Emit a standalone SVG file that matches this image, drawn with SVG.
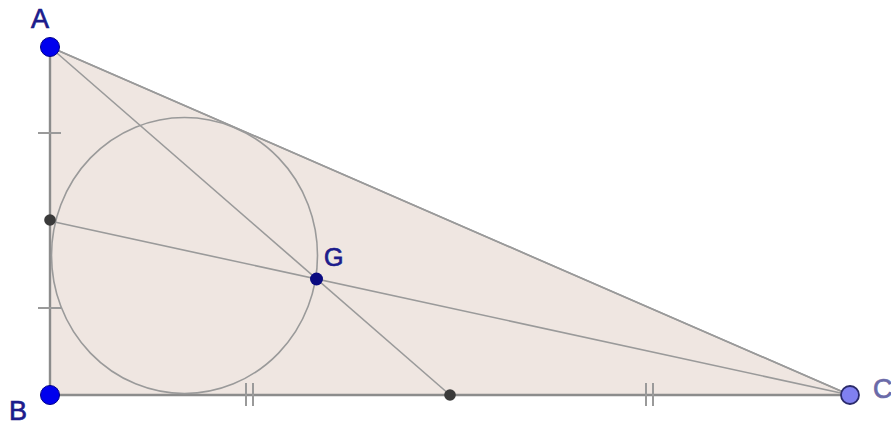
<svg xmlns="http://www.w3.org/2000/svg" width="891" height="427" viewBox="0 0 891 427">
<style>
.seg{stroke:#9a9a9a;stroke-width:1.6;fill:none}
.edge{stroke:#8c8c8c;stroke-width:2.4;fill:none}
.tick{stroke:#9a9a9a;stroke-width:2;fill:none}
.lbl{font-family:"Liberation Sans",Arial,sans-serif;font-size:27px;fill:#1c1c8c;stroke:#1c1c8c;stroke-width:0.7}
</style>
<rect width="891" height="427" fill="#ffffff"/>
<polygon points="50,47 50,395 850,395" fill="#efe6e1" stroke="#9a9a9a" stroke-width="1.6"/>
<g id="connectors">
<line class="edge" x1="50" y1="47" x2="50" y2="395"/>
<line class="edge" x1="50" y1="395" x2="850" y2="395"/>
<line class="seg" x1="50" y1="47" x2="850" y2="395"/>
<line class="seg" x1="50" y1="47" x2="450" y2="395"/>
<line class="seg" x1="50" y1="221" x2="850" y2="395"/>
<ellipse class="seg" cx="184.5" cy="255.5" rx="133" ry="138"/>
<line class="tick" x1="38" y1="133" x2="61" y2="133"/>
<line class="tick" x1="38" y1="308" x2="61" y2="308"/>
<line class="tick" x1="246" y1="383" x2="246" y2="406"/>
<line class="tick" x1="253" y1="383" x2="253" y2="406"/>
<line class="tick" x1="646" y1="383" x2="646" y2="406"/>
<line class="tick" x1="653" y1="383" x2="653" y2="406"/>
</g>
<g id="A"><circle cx="50" cy="47" r="9.5" fill="#0000ee" stroke="#00008b" stroke-width="1"/><text class="lbl" x="31" y="28">A</text></g>
<g id="B"><circle cx="50" cy="395" r="9.5" fill="#0000ee" stroke="#00008b" stroke-width="1"/><text class="lbl" x="9" y="420">B</text></g>
<g id="C"><circle cx="850" cy="395" r="9" fill="#8080f0" stroke="#2a2a6a" stroke-width="1.8"/><text class="lbl" x="873" y="398" style="fill:#6a6aa8;stroke:#6a6aa8">C</text></g>
<g id="G"><circle cx="316.5" cy="279" r="6.5" fill="#0a0a80"/><text class="lbl" x="324" y="266" style="font-size:25px">G</text></g>
<g id="M_AB"><circle cx="50" cy="220" r="5.8" fill="#3a3a3a"/></g>
<g id="M_BC"><circle cx="450" cy="395" r="5.8" fill="#3a3a3a"/></g>
</svg>
